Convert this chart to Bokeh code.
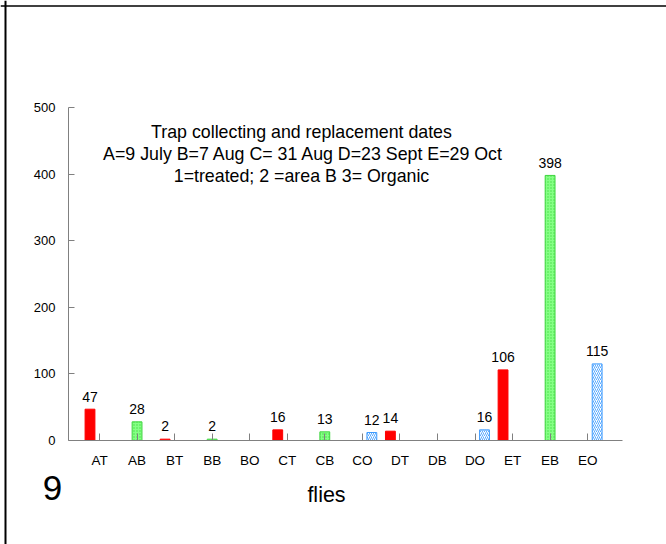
from bokeh.plotting import figure
from bokeh.models import Range1d, LinearAxis, FixedTicker, Span, Label
from bokeh.core.properties import value
from bokeh.embed import file_html
from bokeh.resources import INLINE

# ---------------- data ----------------
categories = ["AT", "AB", "BT", "BB", "BO", "CT", "CB", "CO", "DT", "DB", "DO", "ET", "EB", "EO"]
treated_cats = ["AT", "BT", "CT", "DT", "ET"]
treated_vals = [47, 2, 16, 14, 106]
areab_cats = ["AB", "BB", "CB", "DB", "EB"]
areab_vals = [28, 2, 13, 0, 398]
organic_cats = ["BO", "CO", "DO", "EO"]
organic_vals = [0, 12, 16, 115]
y_ticks = [0, 100, 200, 300, 400, 500]
note_lines = [
    "Trap collecting and replacement dates",
    "A=9 July B=7 Aug C= 31 Aug D=23 Sept E=29 Oct",
    "1=treated; 2 =area B 3= Organic",
]
x_title = "flies"
panel_number = "9"

# ---------------- layout ----------------
W, H = 666, 544
X0, DX = 99.0, 37.55      # pixel of first category centre, pixels per category
Y0, DY = 440.0, 0.666     # pixel of y=0, pixels per unit
FONT = "Liberation Sans"
BASE_SHIFT = 0.37         # empirical baseline correction (fraction of font size)


def dx(px):
    return (px - X0) / DX


def dy(py):
    return (Y0 - py) / DY


p = figure(width=W, height=H,
           x_range=Range1d(-X0 / DX, (W - X0) / DX),
           y_range=Range1d(-(H - Y0) / DY, Y0 / DY),
           output_backend="svg", toolbar_location=None,
           x_axis_location=None, y_axis_location=None,
           min_border=0, min_border_left=0, min_border_right=0,
           min_border_top=0, min_border_bottom=0,
           outline_line_color=None, background_fill_color="white",
           border_fill_color="white")
p.grid.grid_line_color = None

OFF = 0.253
BW = 0.262


def positions(cats, vals, off):
    xs, ys = [], []
    for c, v in zip(cats, vals):
        if v:
            xs.append(categories.index(c) + off)
            ys.append(v)
    return xs, ys


tx, ty = positions(treated_cats, treated_vals, -OFF)
bx, by = positions(areab_cats, areab_vals, 0.0)
ox, oy = positions(organic_cats, organic_vals, OFF)

p.vbar(x=tx, top=ty, bottom=0, width=BW, fill_color="#FF0000", line_color="#FF0000")
p.vbar(x=bx, top=by, bottom=0, width=BW, fill_color="#86FF86", line_color="#3FD43F",
       hatch_pattern="dot", hatch_color="#44DD44", hatch_scale=3, hatch_weight=1)
p.vbar(x=ox, top=oy, bottom=0, width=BW, fill_color="white", line_color="#3D9BFF",
       hatch_pattern="/", hatch_color="#5AAAFF", hatch_scale=4, hatch_weight=1)

LBL_FS = 14
lx = tx + bx + ox
lv = ty + by + oy
p.text(x=lx, y=[v + (7.5 + BASE_SHIFT * LBL_FS) / DY for v in lv], text=[str(v) for v in lv],
       text_align="center", text_baseline="alphabetic",
       text_font=value(FONT), text_font_size=f"{LBL_FS}px", text_color="black")

# ---------------- axes ----------------
yaxis = LinearAxis(fixed_location=dx(68), bounds=(0, 500),
                   ticker=FixedTicker(ticks=y_ticks),
                   major_tick_in=6, major_tick_out=0, minor_tick_line_color=None,
                   axis_line_color="#808080", major_tick_line_color="#808080",
                   major_label_standoff=13, major_label_text_font=FONT,
                   major_label_text_font_size="13px", major_label_text_color="black")
p.add_layout(yaxis, "left")

xaxis = LinearAxis(fixed_location=0, bounds=(dx(68), dx(622)),
                   ticker=FixedTicker(ticks=list(range(len(categories)))),
                   major_label_overrides={i: c for i, c in enumerate(categories)},
                   major_tick_in=7, major_tick_out=0, minor_tick_line_color=None,
                   axis_line_color="#808080", major_tick_line_color="#808080",
                   major_label_standoff=12, major_label_text_font=FONT,
                   major_label_text_font_size="13.5px", major_label_text_color="black")
p.add_layout(xaxis, "below")


# ---------------- texts ----------------
def add_text(txt, cx, baseline_px, fs):
    p.add_layout(Label(x=dx(cx), y=dy(baseline_px - BASE_SHIFT * fs), text=txt,
                       text_align="center", text_baseline="alphabetic",
                       text_font=FONT, text_font_size=f"{fs}px", text_color="black"))


for txt, cx, base in zip(note_lines, [301, 303, 301], [138, 160, 182]):
    add_text(txt, cx, base, 17.8)

add_text(x_title, 326, 502, 21.5)
add_text(panel_number, 52, 500, 35)

# ---------------- frame lines ----------------
p.add_layout(Span(location=dx(5), dimension="height", line_color="black", line_width=2))
p.add_layout(Span(location=dy(5.5), dimension="width", line_color="black", line_width=1.5))

open("out.html", "w").write(file_html(p, INLINE))
